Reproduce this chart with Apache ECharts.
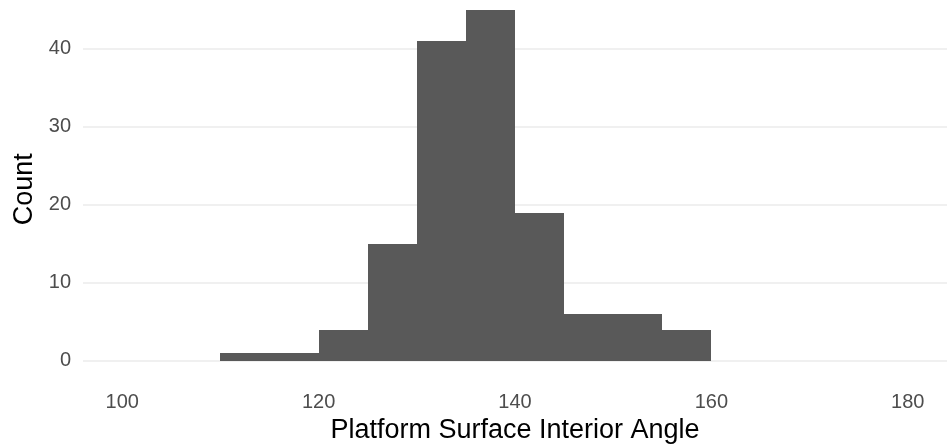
<!DOCTYPE html>
<html>
<head>
<meta charset="utf-8">
<script src="https://cdn.jsdelivr.net/npm/echarts@6/dist/echarts.min.js"></script>
<style>
html,body{margin:0;padding:0;background:#fff;}
#c{width:948px;height:446px;}
</style>
</head>
<body>
<div id="c"></div>
<script>
const binStart = [110, 115, 120, 125, 130, 135, 140, 145, 150, 155];
const binEnd   = [115, 120, 125, 130, 135, 140, 145, 150, 155, 160];
const counts   = [1, 1, 4, 15, 41, 45, 19, 6, 6, 4];
const xTicks = [100, 120, 140, 160, 180];
const yTicks = [0, 10, 20, 30, 40];

const data = binStart.map((s, i) => [s, binEnd[i], counts[i]]);
const font = "'Liberation Sans', Arial, sans-serif";

const chart = echarts.init(document.getElementById('c'), null, {renderer: 'canvas'});
chart.setOption({
  animation: false,
  backgroundColor: '#ffffff',
  grid: {left: 83, right: 1, top: 0, bottom: 67.5, containLabel: false, outerBoundsMode: 'none'},
  xAxis: {
    type: 'value',
    min: 96, max: 184,
    name: 'Platform Surface Interior Angle',
    nameLocation: 'middle',
    nameGap: 38,
    nameTextStyle: {color: '#000000', fontSize: 27, fontFamily: font},
    axisLine: {show: false},
    axisTick: {show: false, customValues: xTicks},
    axisLabel: {customValues: xTicks, color: '#4D4D4D', fontSize: 20, fontFamily: font, margin: 14},
    splitLine: {show: false}
  },
  yAxis: {
    type: 'value',
    min: -2.25, max: 46.28,
    name: 'Count',
    nameLocation: 'middle',
    nameGap: 38,
    nameTextStyle: {color: '#000000', fontSize: 27, fontFamily: font},
    axisLine: {show: false},
    axisTick: {show: false, customValues: yTicks},
    axisLabel: {customValues: yTicks, color: '#4D4D4D', fontSize: 20, fontFamily: font, margin: 12},
    splitLine: {show: true, lineStyle: {color: '#EBEBEB', width: 1.6}}
  },
  series: [{
    type: 'custom',
    data: data,
    encode: {x: [0, 1], y: 2},
    renderItem: function (params, api) {
      const p0 = api.coord([api.value(0), api.value(2)]);
      const p1 = api.coord([api.value(1), 0]);
      const x0 = Math.round(p0[0]), x1 = Math.round(p1[0]);
      const y0 = Math.round(p0[1]), y1 = Math.round(p1[1]);
      return {
        type: 'rect',
        shape: {x: x0, y: y0, width: x1 - x0, height: y1 - y0},
        style: {fill: '#595959'}
      };
    }
  }]
});
</script>
</body>
</html>
